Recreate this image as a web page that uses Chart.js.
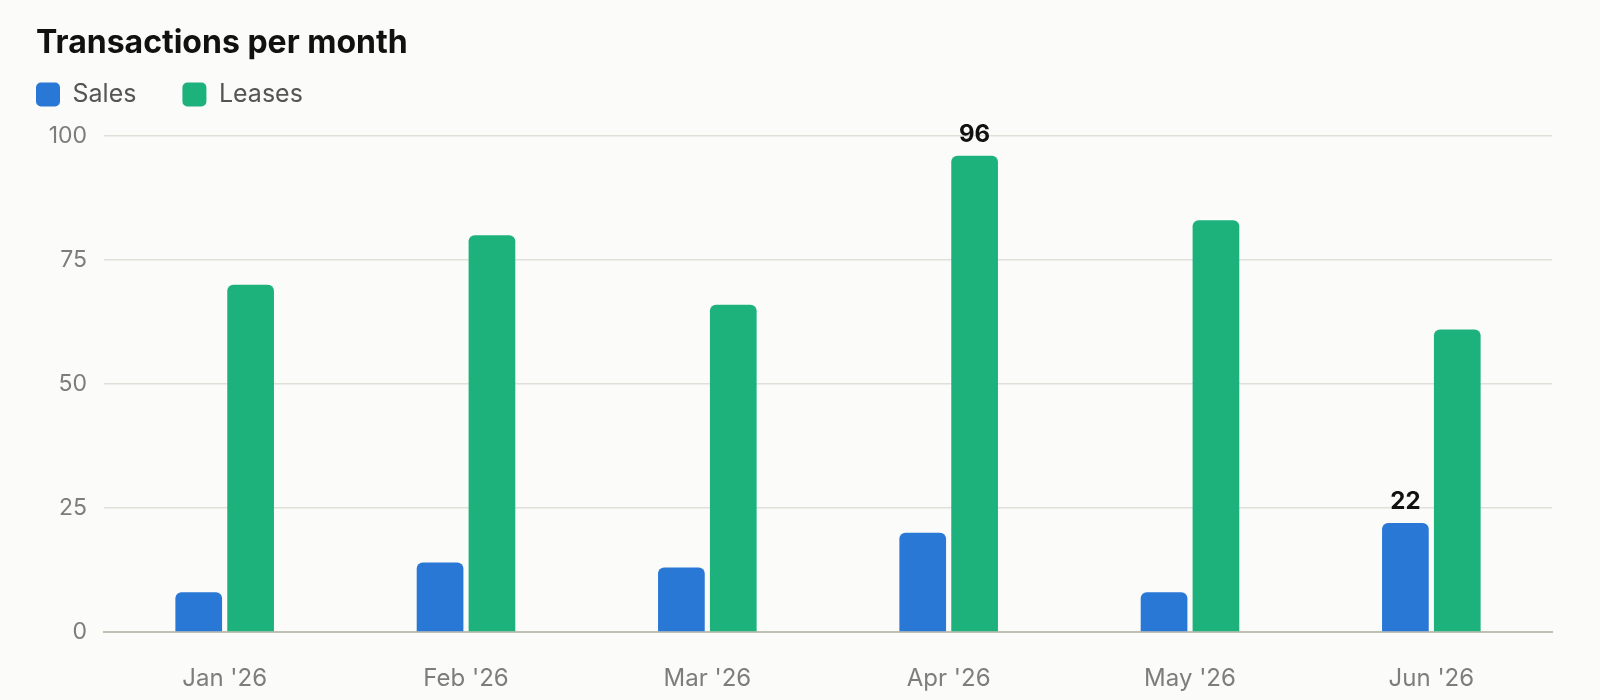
<!DOCTYPE html>
<html>
<head>
<meta charset="utf-8">
<script src="https://cdn.jsdelivr.net/npm/chart.js@4"></script>
<style>
  html, body { margin: 0; padding: 0; background: #fbfbf9; }
  #wrap { width: 1600px; height: 700px; }
</style>
</head>
<body>
<div id="wrap"><canvas id="txChart"></canvas></div>
<script>
// values
const months = ["Jan '26", "Feb '26", "Mar '26", "Apr '26", "May '26", "Jun '26"];
const sales = [8, 14, 13, 20, 8, 22];
const leases = [70, 80, 66, 96, 83, 61];
const yTicks = [0, 25, 50, 75, 100];

const FONT = 'Inter, "Noto Sans", sans-serif';

// label only the highest bar of each series
const peakLabels = {
    id: 'peakLabels',
    afterDatasetsDraw(chart) {
        const ctx = chart.ctx;
        ctx.save();
        ctx.font = 'bold 24px ' + FONT;
        ctx.fillStyle = '#111111';
        ctx.textAlign = 'center';
        ctx.textBaseline = 'alphabetic';
        chart.data.datasets.forEach((ds, i) => {
            const top = Math.max(...ds.data);
            const idx = ds.data.indexOf(top);
            const bar = chart.getDatasetMeta(i).data[idx];
            ctx.fillText(String(top), bar.x, bar.y - 14);
        });
        ctx.restore();
    }
};

// legend sits flush left under the title, with wide gaps between items
const legendSpot = {
    id: 'legendSpot',
    afterLayout(chart) {
        const lg = chart.legend;
        const pad = lg.options.labels.padding;
        lg.left = 36 - pad;
        lg.top = 82 - pad;
    }
};

new Chart(document.getElementById('txChart'), {
    type: 'bar',
    data: {
        labels: months,
        datasets: [
            { label: 'Sales', data: sales, backgroundColor: '#2a78d6' },
            { label: 'Leases', data: leases, backgroundColor: '#1db27c' }
        ]
    },
    options: {
        responsive: true,
        maintainAspectRatio: false,
        animation: false,
        layout: { padding: { left: 36, right: 48, top: 0, bottom: 0 } },
        datasets: {
            bar: {
                categoryPercentage: 0.43,
                barPercentage: 0.9,
                borderRadius: { topLeft: 6, topRight: 6 },
                borderSkipped: 'start'
            }
        },
        plugins: {
            title: {
                display: true,
                text: 'Transactions per month',
                align: 'start',
                color: '#111111',
                font: { family: FONT, size: 32, weight: 'bold' },
                padding: { top: 24, bottom: 0 }
            },
            legend: {
                align: 'start',
                maxHeight: 73.6,
                labels: {
                    boxWidth: 24,
                    boxHeight: 24,
                    useBorderRadius: true,
                    borderRadius: 5,
                    padding: 46,
                    color: '#555555',
                    font: { family: FONT, size: 25 }
                }
            },
            tooltip: { enabled: false }
        },
        scales: {
            x: {
                grid: { display: false },
                border: { display: true, color: '#bfbfb4', width: 2 },
                ticks: { color: '#7d7d7a', font: { family: FONT, size: 24 }, padding: 24 },
                afterFit(scale) { scale.height = 68; }
            },
            y: {
                min: 0,
                max: 100,
                afterBuildTicks(scale) { scale.ticks = yTicks.map(v => ({ value: v })); },
                grid: { color: '#e0e0d9', lineWidth: 1.5, drawTicks: false },
                border: { display: false },
                ticks: { color: '#7d7d7a', font: { family: FONT, size: 23 }, padding: 17 },
                afterFit(scale) { scale.width = 68; }
            }
        }
    },
    plugins: [peakLabels, legendSpot]
});
</script>
</body>
</html>
